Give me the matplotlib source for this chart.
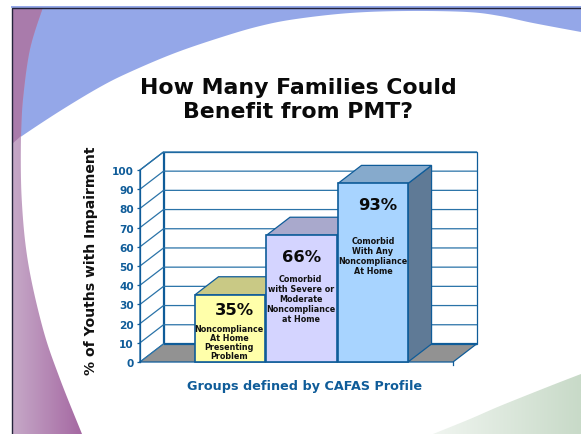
import numpy as np
import matplotlib
matplotlib.use('Agg')
import matplotlib.pyplot as plt
from matplotlib.patches import Polygon

plt.rcParams['font.family'] = ['DejaVu Sans']

# chart values
groups = ['Presenting', 'Severe or moderate', 'Any']
values = [35, 66, 93]
value_labels = ['35%', '66%', '93%']
bar_notes = ['Noncompliance\nAt Home\nPresenting\nProblem',
             'Comorbid\nwith Severe or\nModerate\nNoncompliance\nat Home',
             'Comorbid\nWith Any\nNoncompliance\nAt Home']
yticks = list(range(0, 101, 10))
title = 'How Many Families Could\nBenefit from PMT?'
ylabel = '% of Youths with Impairment'
xlabel = 'Groups defined by CAFAS Profile'

W, H = 581, 435
BLUE = '#0F5C99'
fig = plt.figure(figsize=(W / 100, H / 100), dpi=100, facecolor='white')

#========= slide background ===============#
bg = fig.add_axes([0, 0, 1, 1])
bg.set_xlim(0, W)
bg.set_ylim(H, 0)
bg.autoscale(False)
bg.axis('off')


def gradient(c0, c1, extent, clip):
    """ Horizontal colour ramp in extent, clipped to the polygon clip. """
    c0 = np.array(matplotlib.colors.to_rgb(c0))
    c1 = np.array(matplotlib.colors.to_rgb(c1))
    t = np.linspace(0, 1, 128)
    img = (c0 + (c1 - c0) * t[:, None])[None, :, :]
    im = bg.imshow(img, extent=extent, aspect='auto', zorder=1.2,
                   interpolation='bilinear')
    patch = Polygon(clip, transform=bg.transData, fc='none', ec='none')
    bg.add_patch(patch)
    im.set_clip_path(patch)


def smooth(pts, n=12):
    """ Catmull-Rom pass through the outline points so the sweeps look curved. """
    p = np.array([pts[0]] + list(pts) + [pts[-1]], dtype=float)
    out = []
    for k in range(1, len(p) - 2):
        for t in np.linspace(0, 1, n, endpoint=False):
            out.append(0.5 * (2 * p[k] + (p[k + 1] - p[k - 1]) * t
                              + (2 * p[k - 1] - 5 * p[k] + 4 * p[k + 1] - p[k + 2]) * t ** 2
                              + (3 * p[k] - p[k - 1] - 3 * p[k + 1] + p[k + 2]) * t ** 3))
    out.append(p[-1])
    return [tuple(q) for q in out]


# blue sweep along the top
arc = smooth([(12, 145), (22, 137), (60, 112), (100, 88), (130, 73), (175, 54), (222, 38),
              (260, 27), (296, 20), (350, 14), (407, 12), (467, 13), (500, 17),
              (533, 24), (581, 33)])
bg.add_patch(Polygon(arc + [(581, 8), (12, 8)], fc='#94A7E8', ec='none', zorder=1))

# mauve band down the left edge, darker where it runs behind the blue
band_edge = smooth([(43, 8), (30, 50), (23, 100), (21, 137), (21.7, 200), (28, 263),
                    (43, 330), (60, 380), (82, 435)])
left_band = band_edge + [(12, 435), (12, 8)]
gradient('#C6A9C8', '#A568A2', (12, 82, 435, 8), left_band)
band_top = smooth([(43, 8), (30, 50), (23, 100), (21, 137)])
bg.add_patch(Polygon(band_top + [(12, 145), (12, 8)], fc='#A97BAB', ec='none', zorder=1.5))

# green sweep in the lower right corner
green = smooth([(433, 435), (470, 420), (500, 407), (550, 387), (581, 375)]) + [(581, 435)]
gradient('#F0F5F0', '#C8DAC8', (433, 581, 435, 375), green)

bg.plot([12, 12, 581], [435, 9.3, 9.3], color='#23233A', lw=1.0, zorder=2,
        solid_joinstyle='miter')
bg.plot([12, 581], [8, 8], color='#94A7E8', lw=1.4, zorder=1.9)

bg.text(298, 100.5, title, ha='center', va='center', fontsize=15.8,
        fontweight='bold', color='#0A0A0A', linespacing=1.25, zorder=3)
bg.text(90.5, 261, ylabel, rotation=90, ha='center', va='center', fontsize=10.1,
        fontweight='bold', color='#111111', zorder=3)
bg.text(305, 387, xlabel, ha='center', va='center', fontsize=9.15,
        fontweight='bold', color=BLUE, zorder=3)

#========= the 3-d bars ===============#
# front plane spans 140-453 px across and 363-171 px down
ax = fig.add_axes([140 / W, 1 - 363 / H, 313 / W, 192 / H])
ax.patch.set_alpha(0)
ax.set_xlim(-1.259, 3.119)
ax.set_ylim(0, 100)
for s in ax.spines.values():
    s.set_visible(False)

xpos = np.arange(len(groups))
width = 0.98
# depth of the box in data units
dx, dy = 0.329, 9.4
x0, x1 = ax.get_xlim()


def box(pts, **kw):
    ax.add_patch(Polygon(pts, clip_on=False, **kw))


# back wall, floor and side wall
box([(x0 + dx, dy), (x1 + dx, dy), (x1 + dx, 100 + dy), (x0 + dx, 100 + dy)],
    fc='white', ec=BLUE, lw=0.9, zorder=1)
box([(x0, 0), (x1, 0), (x1 + dx, dy), (x0 + dx, dy)], fc='#929292', ec='none', zorder=1.2)
box([(x0, 0), (x0 + dx, dy), (x0 + dx, 100 + dy), (x0, 100)],
    fc='white', ec=BLUE, lw=0.9, zorder=1.1)
for t in yticks:
    ax.plot([x0, x0 + dx, x1 + dx], [t, t + dy, t + dy], color='#2A73A8', lw=0.9,
            clip_on=False, zorder=1.3)
ax.plot([x0 + dx, x1 + dx], [dy, dy], color=BLUE, lw=1.6, clip_on=False, zorder=1.4,
        solid_capstyle='butt')
ax.plot([x0, x1, x1 + dx], [0, 0, dy], color=BLUE, lw=0.9, clip_on=False, zorder=1.5)
ax.plot([x0, x0], [0, 100], color=BLUE, lw=0.9, clip_on=False, zorder=1.5)
ax.plot([x1, x1], [0, -1.5], color=BLUE, lw=0.9, clip_on=False, zorder=1.5)

fronts = ['#FFFFAA', '#D4D4FF', '#A8D4FF']
tops = ['#C9C985', '#A9A9CC', '#86AACC']
sides = ['#98987A', '#7F7F99', '#5F7A96']
label_x = [0.063, 0.997, 2.064]
label_y = [27.5, 55, 82]
note_x = [-0.015, 0.99, 2.0]
note_y = [10.4, 33, 55.5]
note_spacing = [1.03, 1.15, 1.15]

for i, (x, v) in enumerate(zip(xpos, values)):
    z = 2 + i
    l, r = x - width / 2, x + width / 2
    box([(r, 0), (r + dx, dy), (r + dx, v + dy), (r, v)], fc=sides[i], ec=BLUE, lw=0.9, zorder=z)
    box([(l, v), (r, v), (r + dx, v + dy), (l + dx, v + dy)], fc=tops[i], ec=BLUE, lw=0.9, zorder=z)
    ax.bar(x, v, width=width, color=fronts[i], edgecolor=BLUE, linewidth=1.2,
           zorder=z + 0.1, clip_on=False)
    ax.text(label_x[i], label_y[i], value_labels[i], ha='center', va='center',
            fontsize=11.8, fontweight='bold', color='#0A0A0A', zorder=6)
    ax.text(note_x[i], note_y[i], bar_notes[i], ha='center', va='center', fontsize=5.8,
            fontweight='bold', color='#111111', linespacing=note_spacing[i], zorder=6)

ax.set_xticks([])
ax.set_yticks(yticks)
ax.tick_params(axis='y', length=2, width=0.9, color=BLUE, pad=2.5, labelcolor=BLUE, labelsize=7.6)
for lab in ax.get_yticklabels():
    lab.set_fontweight('bold')

fig.savefig('out.png', dpi=100)
